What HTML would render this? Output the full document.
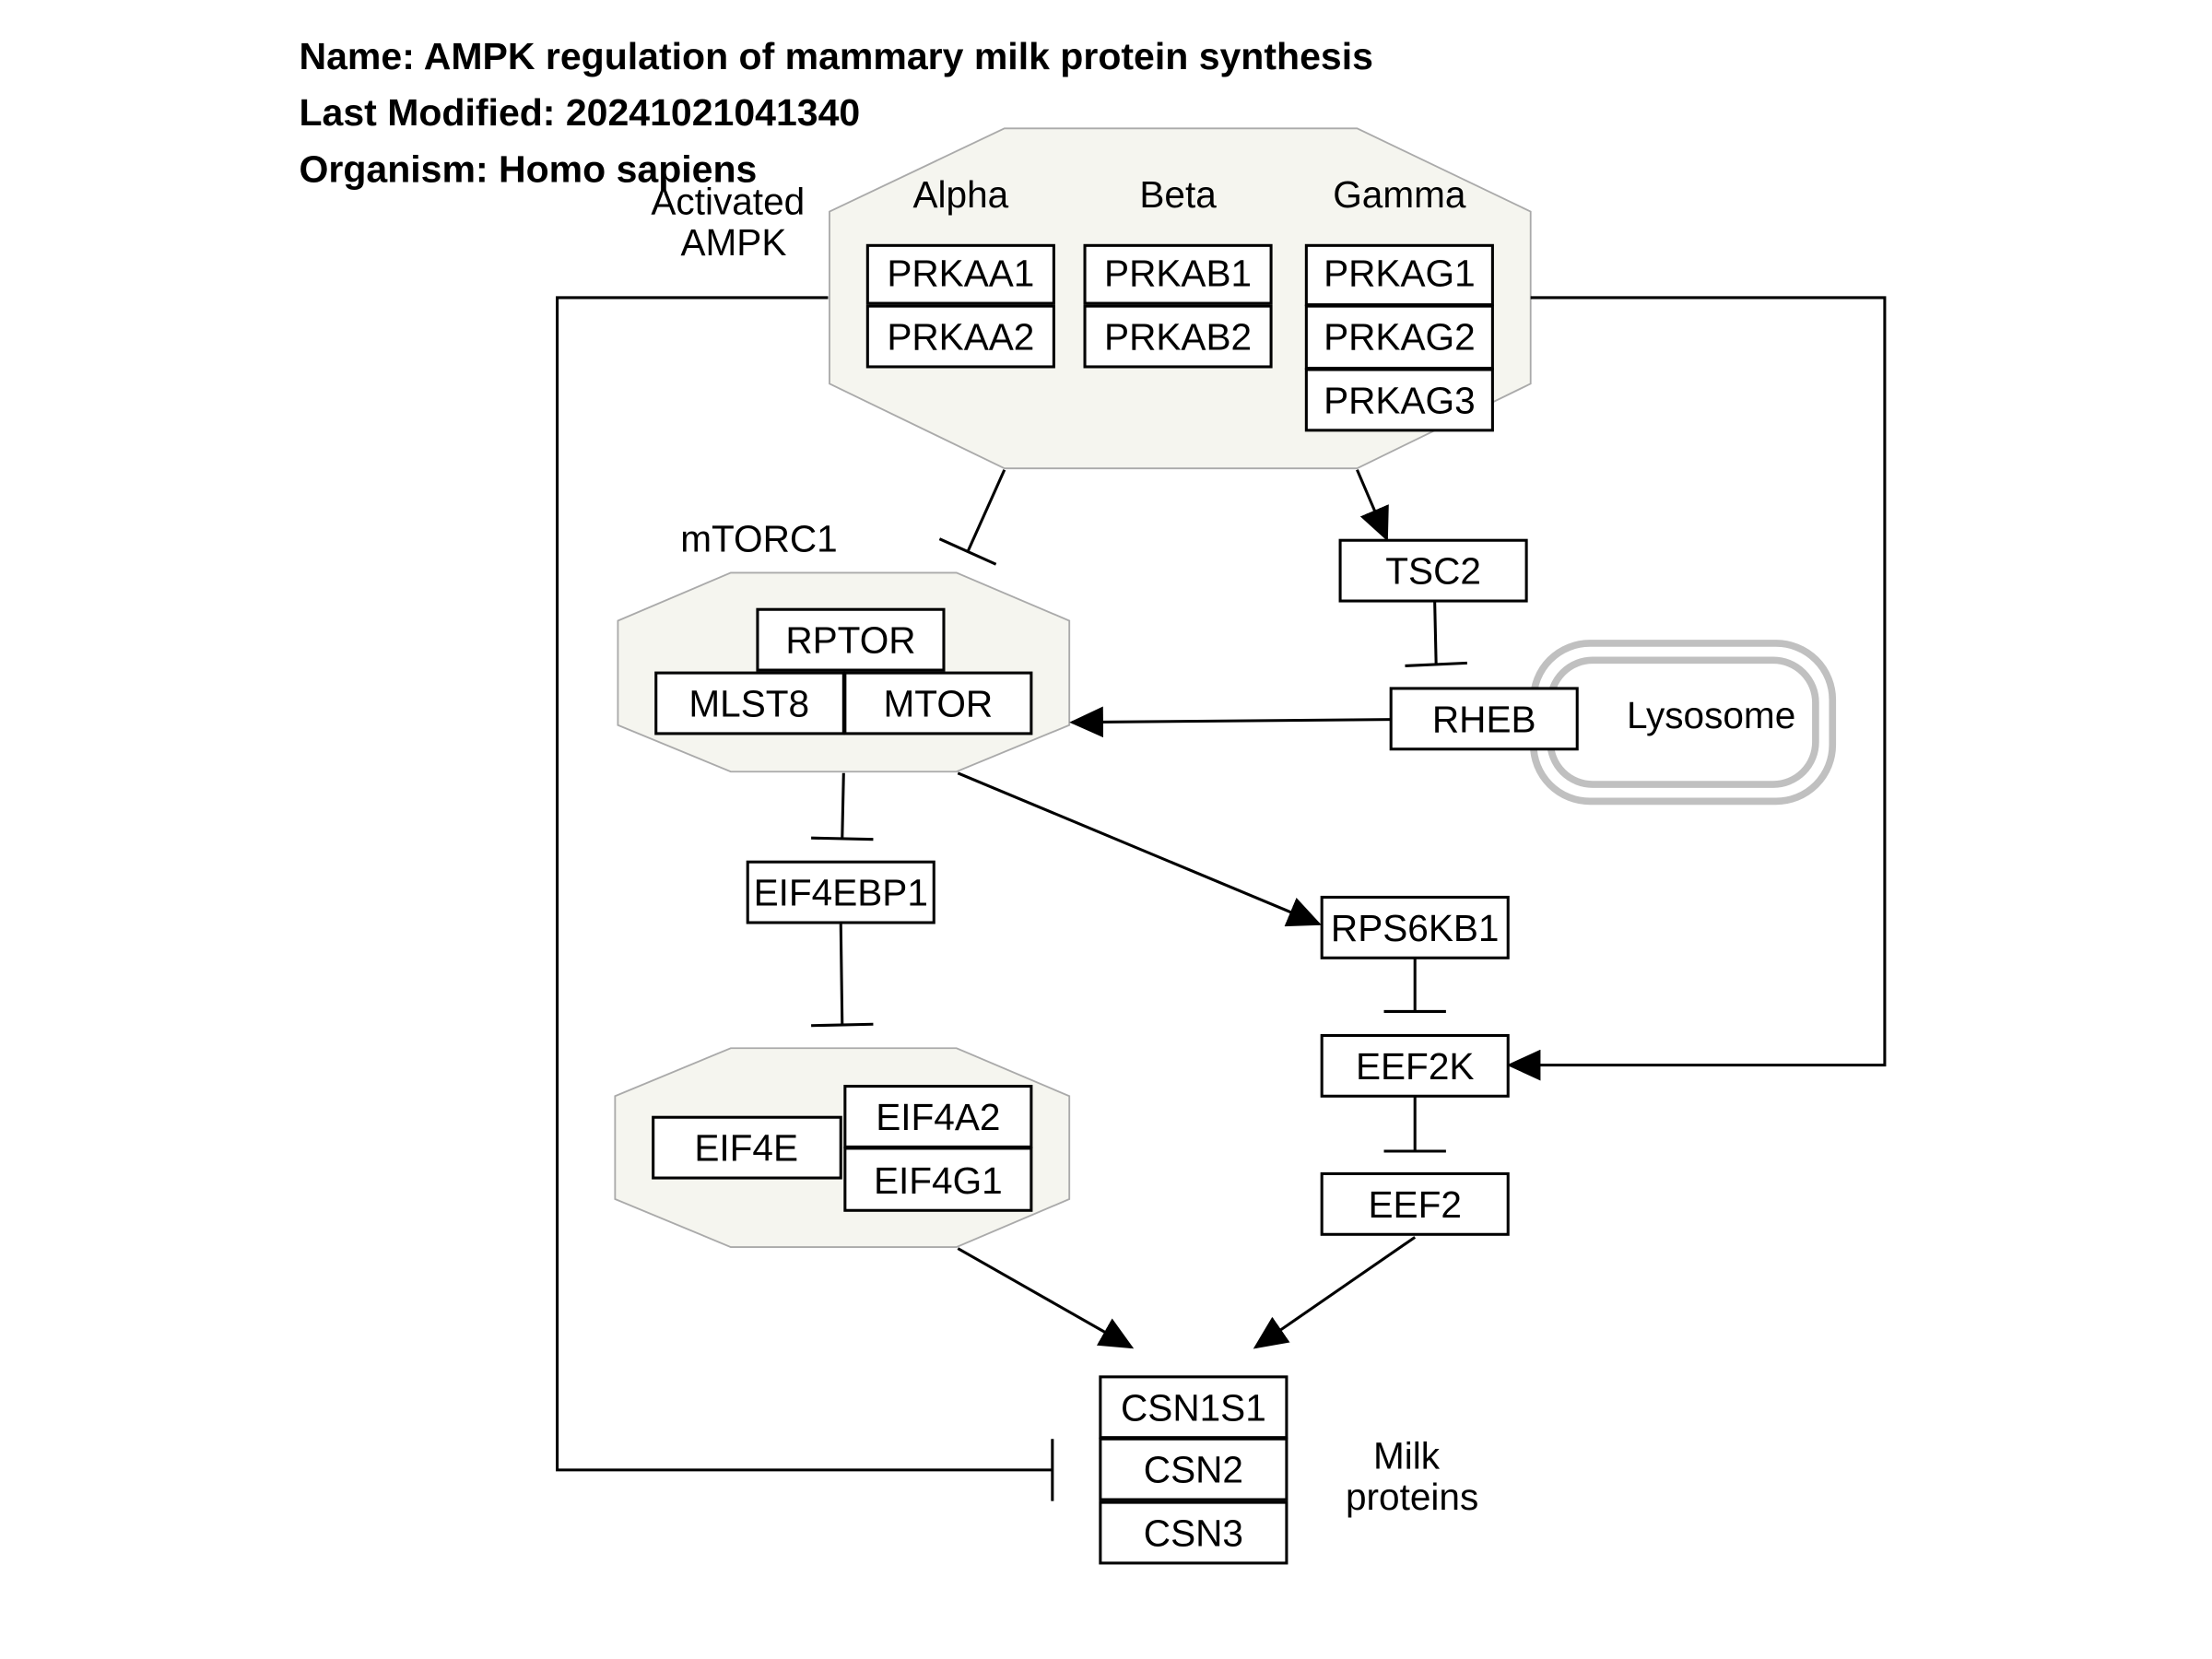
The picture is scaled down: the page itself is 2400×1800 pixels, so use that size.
<!DOCTYPE html>
<html><head><meta charset="utf-8"><style>
html,body{margin:0;padding:0;background:#fff;}
svg{display:block;}
text{font-family:"Liberation Sans",sans-serif;}
</style></head><body>
<svg width="2400" height="1800" viewBox="0 0 1568 1176" xmlns="http://www.w3.org/2000/svg">
<defs>
<marker id="a" markerWidth="24" markerHeight="22" refX="22" refY="11" orient="auto" markerUnits="userSpaceOnUse">
<polygon points="0,0 24,11 0,22" fill="#000"/></marker>
</defs>
<rect width="1568" height="1176" fill="#fff"/>
<g font-weight="bold" font-size="26.8" fill="#000">
<text x="212" y="49">Name: AMPK regulation of mammary milk protein synthesis</text>
<text x="212" y="89">Last Modified: 20241021041340</text>
<text x="212" y="129">Organism: Homo sapiens</text>
</g>
<g fill="#f5f5ef" stroke="#aaa" stroke-width="1.2">
<polygon points="712,91 962,91 1085,150 1085,272 962,332 712,332 588,272 588,150"/>
<polygon points="518,406 678,406 758,440 758,514 678,547 518,547 438,514 438,440"/>
<polygon points="518,743 678,743 758,777 758,850 678,884 518,884 436,850 436,777"/>
</g>
<g fill="none" stroke="#c0c0c0" stroke-width="5">
<rect x="1087" y="456" width="212" height="112" rx="40"/>
<rect x="1099" y="468" width="188" height="88" rx="30"/>
</g>
<g font-size="26.5" fill="#000" text-anchor="middle">
<text x="681" y="147">Alpha</text><text x="835" y="147">Beta</text><text x="992" y="147">Gamma</text>
<text x="516" y="152">Activated</text><text x="520" y="181">AMPK</text>
<text x="538" y="391">mTORC1</text>
<text x="1213" y="516">Lysosome</text>
<text x="997" y="1041">Milk</text><text x="1001" y="1070">proteins</text>
</g>
<g stroke="#000" stroke-width="2" fill="#fff">
<rect x="615" y="174" width="132" height="41"/><rect x="615" y="217" width="132" height="43"/>
<rect x="769" y="174" width="132" height="41"/><rect x="769" y="217" width="132" height="43"/>
<rect x="926" y="174" width="132" height="42"/><rect x="926" y="217" width="132" height="44"/><rect x="926" y="262" width="132" height="43"/>
<rect x="537" y="432" width="132" height="43"/>
<rect x="465" y="477" width="133" height="43"/><rect x="599" y="477" width="132" height="43"/>
<rect x="950" y="383" width="132" height="43"/>
<rect x="986" y="488" width="132" height="43"/>
<rect x="530" y="611" width="132" height="43"/>
<rect x="937" y="636" width="132" height="43"/>
<rect x="937" y="734" width="132" height="43"/>
<rect x="937" y="832" width="132" height="43"/>
<rect x="463" y="792" width="133" height="43"/>
<rect x="599" y="770" width="132" height="43"/><rect x="599" y="814" width="132" height="44"/>
<rect x="780" y="976" width="132" height="43"/><rect x="780" y="1020" width="132" height="43"/><rect x="780" y="1065" width="132" height="43"/>
</g>
<g font-size="26.5" fill="#000" text-anchor="middle">
<text x="681" y="203">PRKAA1</text><text x="681" y="248">PRKAA2</text>
<text x="835" y="203">PRKAB1</text><text x="835" y="248">PRKAB2</text>
<text x="992" y="203">PRKAG1</text><text x="992" y="248">PRKAG2</text><text x="992" y="293">PRKAG3</text>
<text x="603" y="463">RPTOR</text>
<text x="531" y="508">MLST8</text><text x="665" y="508">MTOR</text>
<text x="1016" y="414">TSC2</text>
<text x="1052" y="519">RHEB</text>
<text x="596" y="642">EIF4EBP1</text>
<text x="1003" y="667">RPS6KB1</text>
<text x="1003" y="765">EEF2K</text>
<text x="1003" y="863">EEF2</text>
<text x="529" y="823">EIF4E</text>
<text x="665" y="801">EIF4A2</text><text x="665" y="846">EIF4G1</text>
<text x="846" y="1007">CSN1S1</text><text x="846" y="1051">CSN2</text><text x="846" y="1096">CSN3</text>
</g>
<g stroke="#000" stroke-width="2" fill="none">
<line x1="712" y1="333" x2="686" y2="391"/><line x1="666" y1="382" x2="706" y2="400"/>
<line x1="962" y1="333" x2="983" y2="382" marker-end="url(#a)"/>
<line x1="1017" y1="426" x2="1018" y2="471"/><line x1="996" y1="472" x2="1040" y2="470"/>
<line x1="986" y1="510" x2="760" y2="512" marker-end="url(#a)"/>
<line x1="598" y1="548" x2="597" y2="594"/><line x1="575" y1="594" x2="619" y2="595"/>
<line x1="596" y1="655" x2="597" y2="726"/><line x1="575" y1="727" x2="619" y2="726"/>
<line x1="679" y1="548" x2="935" y2="655" marker-end="url(#a)"/>
<line x1="1003" y1="679" x2="1003" y2="717"/><line x1="981" y1="717" x2="1025" y2="717"/>
<line x1="1003" y1="777" x2="1003" y2="816"/><line x1="981" y1="816" x2="1025" y2="816"/>
<polyline points="1085,211 1336,211 1336,755 1070,755" marker-end="url(#a)"/>
<polyline points="587,211 395,211 395,1042 746,1042"/><line x1="746" y1="1020" x2="746" y2="1064"/>
<line x1="679" y1="885" x2="802" y2="955" marker-end="url(#a)"/>
<line x1="1003" y1="877" x2="890" y2="955" marker-end="url(#a)"/>
</g>
</svg>
</body></html>
